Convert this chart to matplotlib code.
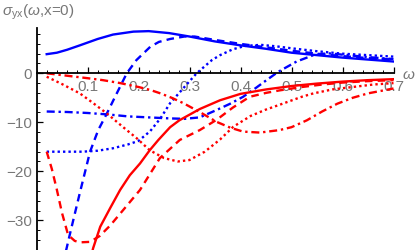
import matplotlib
matplotlib.use("Agg")
import matplotlib.pyplot as plt
from matplotlib.ticker import MultipleLocator, FixedLocator

plt.rcParams['font.family'] = ['Liberation Sans', 'DejaVu Sans']
plt.rcParams['mathtext.fontset'] = 'custom'
plt.rcParams['mathtext.rm'] = 'Liberation Sans'
plt.rcParams['mathtext.it'] = 'Liberation Sans:italic'

# ---- data ----
w_blue_solid = [0.02, 0.04, 0.06, 0.085, 0.12, 0.15, 0.19, 0.22, 0.26, 0.30, 0.35, 0.40, 0.45, 0.50, 0.55, 0.60, 0.65, 0.70]
v_blue_solid = [3.9, 4.2, 4.8, 5.7, 7.0, 7.9, 8.5, 8.6, 8.2, 7.5, 6.5, 5.7, 5.0, 4.2, 3.7, 3.2, 2.8, 2.4]

w_blue_dashed = [0.055, 0.066, 0.085, 0.105, 0.121, 0.138, 0.155, 0.177, 0.196, 0.223, 0.24, 0.262, 0.29, 0.31, 0.35, 0.40, 0.45, 0.50, 0.55, 0.60, 0.65, 0.70]
v_blue_dashed = [-37.5, -32.6, -24.4, -16.0, -11.6, -8.2, -4.6, 0.0, 2.7, 5.4, 6.4, 7.0, 7.5, 7.5, 6.8, 6.0, 5.3, 4.6, 4.0, 3.5, 3.1, 2.8]

w_blue_dotted = [0.02, 0.05, 0.09, 0.12, 0.15, 0.18, 0.20, 0.223, 0.243, 0.262, 0.29, 0.314, 0.344, 0.36, 0.385, 0.41, 0.44, 0.47, 0.50, 0.55, 0.60, 0.65, 0.70]
v_blue_dotted = [-16.0, -16.0, -16.0, -15.8, -15.3, -14.5, -13.8, -11.8, -9.2, -6.1, -2.8, 0.0, 2.7, 3.7, 4.9, 5.6, 5.8, 5.5, 5.1, 4.5, 4.0, 3.7, 3.4]

w_blue_dashdot = [0.02, 0.06, 0.10, 0.14, 0.18, 0.22, 0.26, 0.29, 0.32, 0.353, 0.38, 0.405, 0.43, 0.451, 0.474, 0.51, 0.543, 0.57, 0.60, 0.65, 0.70]
v_blue_dashdot = [-7.8, -7.9, -8.1, -8.4, -8.8, -9.0, -9.2, -9.3, -9.0, -7.5, -6.2, -4.8, -3.0, -1.4, 0.3, 2.4, 3.7, 4.1, 3.8, 3.3, 2.9]

w_red_solid = [0.108, 0.111, 0.125, 0.145, 0.164, 0.183, 0.203, 0.222, 0.239, 0.262, 0.28, 0.32, 0.36, 0.40, 0.45, 0.50, 0.55, 0.60, 0.65, 0.70]
v_red_solid = [-37.0, -35.7, -31.3, -27.4, -23.8, -20.8, -18.4, -15.7, -13.6, -11.0, -9.6, -7.3, -5.5, -4.2, -3.3, -2.6, -2.1, -1.7, -1.4, -1.2]

w_red_dashed = [0.02, 0.03, 0.04, 0.05, 0.062, 0.075, 0.085, 0.105, 0.124, 0.145, 0.17, 0.203, 0.242, 0.281, 0.32, 0.353, 0.385, 0.418, 0.45, 0.476, 0.52, 0.56, 0.60, 0.65, 0.70]
v_red_dashed = [-16.0, -19.5, -23.8, -28.5, -33.0, -34.2, -34.5, -34.4, -33.2, -31.0, -27.9, -23.8, -17.3, -13.6, -11.6, -9.5, -7.0, -4.8, -4.0, -3.5, -2.8, -2.3, -1.9, -1.6, -1.4]

w_red_dotted = [0.02, 0.05, 0.085, 0.11, 0.138, 0.17, 0.197, 0.222, 0.25, 0.277, 0.30, 0.33, 0.36, 0.386, 0.42, 0.45, 0.48, 0.52, 0.543, 0.58, 0.628, 0.66, 0.70]
v_red_dotted = [-0.7, -2.2, -4.1, -6.0, -8.2, -11.0, -13.3, -15.7, -17.3, -18.0, -17.7, -16.0, -13.5, -10.9, -8.7, -7.4, -6.3, -4.8, -4.1, -3.3, -2.7, -2.3, -2.0]

w_red_dashdot = [0.02, 0.06, 0.10, 0.13, 0.164, 0.20, 0.223, 0.243, 0.265, 0.288, 0.32, 0.353, 0.38, 0.405, 0.438, 0.476, 0.50, 0.53, 0.56, 0.59, 0.62, 0.65, 0.68, 0.70]
v_red_dashdot = [0.0, -0.5, -1.0, -1.4, -2.0, -2.8, -3.4, -4.1, -5.0, -6.1, -7.9, -9.9, -11.1, -11.9, -12.1, -11.6, -11.0, -9.6, -7.8, -6.2, -5.0, -4.1, -3.5, -3.1]

x_ticks = [0.1, 0.2, 0.3, 0.4, 0.5, 0.6, 0.7]
y_ticks = [-30, -20, -10, 0]

# ---- figure ----
W, H = 415, 250
fig = plt.figure(figsize=(W / 100, H / 100), dpi=100)
left_px, right_px, top_px = 36.5, 393.5, 28
ax = fig.add_axes([left_px / W, 0, (right_px - left_px) / W, (H - top_px) / H])
ax.set_xlim(0, 0.7)
ax.set_ylim(-36.06, 9.24)
ax.patch.set_alpha(0)

lw = 1.7
BLUE = (0, 0, 1)
RED = (1, 0, 0)
dash = (0, (3.2, 2.2))
dot = (0, (1.0, 1.3))
dashdot = (0, (3.4, 1.6, 1.0, 1.6))

ax.plot(w_blue_solid, v_blue_solid, color=BLUE, lw=lw)
ax.plot(w_blue_dashed, v_blue_dashed, color=BLUE, lw=lw, linestyle=dash)
ax.plot(w_blue_dotted, v_blue_dotted, color=BLUE, lw=lw, linestyle=dot)
ax.plot(w_blue_dashdot, v_blue_dashdot, color=BLUE, lw=lw, linestyle=dashdot)
ax.plot(w_red_solid, v_red_solid, color=RED, lw=lw)
ax.plot(w_red_dashed, v_red_dashed, color=RED, lw=lw, linestyle=dash)
ax.plot(w_red_dotted, v_red_dotted, color=RED, lw=lw, linestyle=dot)
ax.plot(w_red_dashdot, v_red_dashdot, color=RED, lw=lw, linestyle=dashdot)

# Mathematica-like axes
for s in ['top', 'right']:
    ax.spines[s].set_visible(False)
ax.spines['bottom'].set_position(('data', 0))
ax.spines['left'].set_linewidth(1.3)
ax.spines['bottom'].set_linewidth(1.3)

gray = '#777777'
ax.xaxis.set_major_locator(FixedLocator(x_ticks))
ax.xaxis.set_minor_locator(MultipleLocator(0.02))
ax.yaxis.set_major_locator(FixedLocator(y_ticks))
ax.yaxis.set_minor_locator(MultipleLocator(2))
ax.set_xticklabels([f"{t:.1f}" for t in x_ticks])
ax.set_yticklabels(["\u221230", "\u221220", "\u221210", "0"])
ax.tick_params(axis='both', which='major', direction='in', length=4, width=0.9,
               labelsize=11, labelcolor=gray, color='black')
ax.tick_params(axis='both', which='minor', direction='in', length=2.3, width=0.7, color='black')
ax.tick_params(axis='x', which='major', pad=4.5)
ax.tick_params(axis='y', which='major', pad=3)

fig.text(0.005, 0.99, r"$\sigma_{\rm yx}(\omega$,x=0)", color=gray, fontsize=11,
         ha='left', va='top')
ax.annotate(r"$\omega$", xy=(0.7, 0), xycoords='data', xytext=(6, -1), textcoords='offset points',
            color=gray, fontsize=11, ha='left', va='center', annotation_clip=False)

fig.savefig("out.png", dpi=100)
